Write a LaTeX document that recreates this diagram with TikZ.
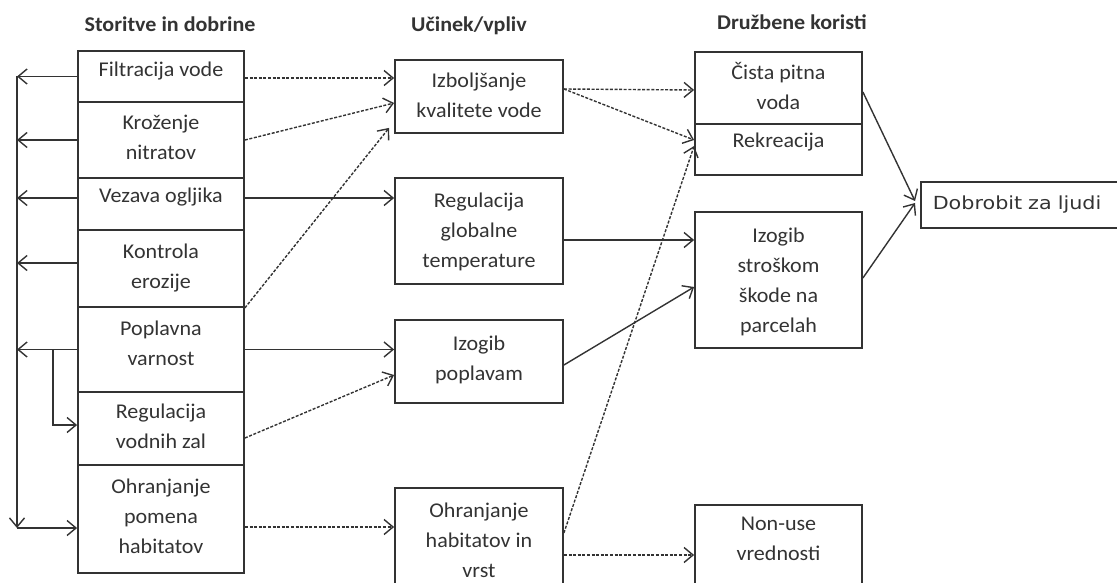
\documentclass[tikz,border=0pt]{standalone}
\usepackage{fontspec}
\setmainfont{Carlito}[FakeStretch=1.05]
\newfontfamily\dejavu{DejaVu Sans}[FakeStretch=1.15]
\usetikzlibrary{arrows.meta,calc}
\definecolor{ink}{HTML}{333333}
\definecolor{txt}{HTML}{333333}
\tikzset{
 box/.style={draw=ink, line width=1.8pt, inner sep=0pt, align=center, text=txt,
   font=\fontsize{21}{30}\selectfont, text height=15pt},
 two/.style={text height=45pt},
 three/.style={text height=75pt},
 four/.style={text height=104pt},
 lbox/.style={box, minimum width=166pt},
 mbox/.style={box, minimum width=168pt},
 rbox/.style={box, minimum width=167pt},
 con/.style={draw=ink, line width=1.4pt, -{Straight Barb[length=9pt,width=15pt,line width=1.4pt]}},
 dsh/.style={con, dash pattern=on 3pt off 1.6pt},
 ttl/.style={font=\fontsize{21}{25}\selectfont\bfseries, text=txt, anchor=base, inner sep=0pt},
}
\begin{document}
\begin{tikzpicture}[x=1pt,y=-1pt]
\useasboundingbox (0,0) rectangle (1117,583);
% titles
\node[ttl] (t1) at (170,32) {Storitve in dobrine};
\node[ttl] (t2) at (469,32) {Učinek/vpliv};
\node[ttl] (t3) at (792,30) {Družbene koristi};
% left column
\node[lbox, minimum height=51pt, text depth=14pt] (F) at (161,76.5) {Filtracija vode};
\node[lbox, two, minimum height=76pt, text depth=5pt] (K) at (161,140) {Kroženje\\nitratov};
\node[lbox, minimum height=52pt, text depth=17pt] (V) at (161,204) {Vezava ogljika};
\node[lbox, two, minimum height=77pt, text depth=6pt] (Ko) at (161,268.5) {Kontrola\\erozije};
\node[lbox, two, minimum height=85pt, text depth=14pt] (P) at (161,349.5) {Poplavna\\varnost};
\node[lbox, two, minimum height=73pt, text depth=6pt] (R) at (161,428.5) {Regulacija\\vodnih zal};
\node[lbox, three, minimum height=108pt, text depth=7pt] (O) at (161,519) {Ohranjanje\\pomena\\habitatov};
% middle column
\node[mbox, two, minimum height=73pt, text depth=2pt] (IK) at (479,96.5) {Izboljšanje\\kvalitete vode};
\node[mbox, three, minimum height=106pt, text depth=3pt] (RG) at (479,231) {Regulacija\\globalne\\temperature};
\node[mbox, two, minimum height=83pt, text depth=8pt] (IP) at (479,361.5) {Izogib\\poplavam};
\node[mbox, three, minimum height=108pt, text depth=5pt] (OH) at (479,542) {Ohranjanje\\habitatov in\\vrst};
% right column
\node[rbox, two, minimum height=72pt, text depth=1pt] (C) at (778.5,88) {Čista pitna\\voda};
\node[rbox, minimum height=51pt, text depth=18pt] (Re) at (778.5,149.5) {Rekreacija};
\node[rbox, four, minimum height=136pt, text depth=0pt] (IS) at (778.5,280) {Izogib\\stroškom\\škode na\\parcelah};
\node[rbox, two, minimum height=110pt, text depth=45pt] (NU) at (778.5,560) {Non-use\\vrednosti};
% final
\node[draw=ink, line width=1.5pt, anchor=west, minimum height=46pt, text width=205pt,
  inner xsep=12pt, inner ysep=0pt, align=left, text=txt,
  font=\dejavu\fontsize{18}{22}\selectfont] (D) at (920,205) {Dobrobit za ljudi};
% left bus
\coordinate (bt) at (17,76.5);
\coordinate (bb) at (17,528);
\coordinate (pb) at (53,350);
\draw[con] (F.west) -- (F.west -| bt);
\draw[con] (K.west) -- (K.west -| bt);
\draw[con] (V.west |- 0,198) -- (bt |- 0,198);
\draw[con] (Ko.west |- 0,263) -- (bt |- 0,263);
\draw[con] (P.west) -- (P.west -| bt);
\draw[con] (bt) -- (bb);
\draw[con] (bb) -- (O.west |- bb);
\draw[con] (P.west -| pb) -- (pb |- 0,425) -- (R.west |- 0,425);
% left to middle
\draw[dsh] (F.east |- 0,78) -- (IK.west |- 0,78);
\draw[dsh] (K.east) -- (IK.west |- 0,103);
\draw[dsh] (Ko.south east) -- ([xshift=-5pt,yshift=6pt]IK.south west);
\draw[con] (V.east |- 0,198) -- (RG.west |- 0,198);
\draw[con] (P.east) -- (IP.west |- P.east);
\draw[dsh] (R.east |- 0,438) -- (IP.west |- 0,375);
\draw[dsh] (O.east |- 0,527) -- (OH.west |- 0,527);
% middle to right
\draw[dsh] (IK.east |- 0,89) -- (C.west |- 0,90);
\draw[dsh] (IK.east |- 0,89) -- (Re.west |- 0,140);
\draw[con] (RG.east |- 0,240) -- (IS.west |- 0,240);
\draw[con] (IP.east |- 0,365) -- (IS.west |- 0,287);
\draw[dsh] (OH.east |- 0,533) -- (Re.west |- 0,146);
\draw[dsh] (OH.east |- 0,555) -- (NU.west |- 0,555);
% right to final
\draw[con] (C.east |- 0,92) -- ([xshift=-5pt,yshift=4pt]D.west);
\draw[con] (IS.east |- 0,278) -- ([xshift=-5pt,yshift=2pt]D.west);
\end{tikzpicture}
\end{document}
